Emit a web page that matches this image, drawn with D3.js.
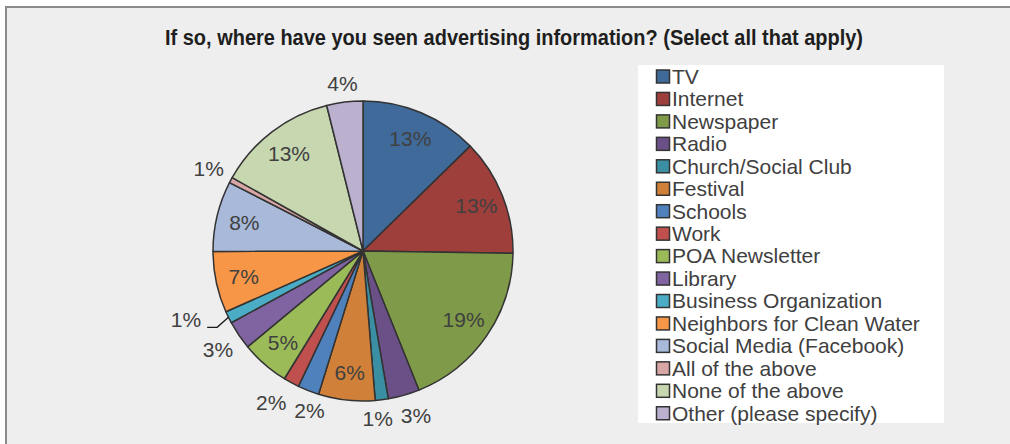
<!DOCTYPE html>
<html>
<head>
<meta charset="utf-8">
<script src="https://cdn.jsdelivr.net/npm/d3@7"></script>
<style>
  html, body { margin: 0; padding: 0; background: #ffffff; }
  svg text { font-family: "Liberation Sans", Arial, sans-serif; }
</style>
</head>
<body>
<svg id="chart" width="1010" height="444"></svg>
<script>
// Survey responses: share of answers (percent) per source
const categories = [
  "TV", "Internet", "Newspaper", "Radio", "Church/Social Club", "Festival",
  "Schools", "Work", "POA Newsletter", "Library", "Business Organization",
  "Neighbors for Clean Water", "Social Media (Facebook)", "All of the above",
  "None of the above", "Other (please specify)"
];
const shares = [12.7, 12.6, 18.7, 3.4, 1.4, 6.1, 2.3, 1.7, 5.2, 3.1, 1.3, 6.6, 7.6, 0.6, 13.0, 3.9];
const palette = [
  "#3f6a9a", "#9e3f3c", "#7f9a48", "#6b5087", "#3a8fa3", "#d1803a",
  "#4f81bd", "#c0504d", "#9bbb59", "#8064a2", "#4bacc6", "#f79646",
  "#a8b9d9", "#d7a6a5", "#c7d7b0", "#bbb0ce"
];
const title = "If so, where have you seen advertising information? (Select all that apply)";

const rows = categories.map((c, i) => ({ name: c, value: shares[i], color: palette[i] }));

const svg = d3.select("#chart");

// chart area frame
svg.append("rect")
  .attr("x", 6).attr("y", 7).attr("width", 1100).attr("height", 500)
  .attr("fill", "#eeeeee").attr("stroke", "#8a8a8a").attr("stroke-width", 2);

svg.append("text")
  .attr("x", 514).attr("y", 45)
  .attr("text-anchor", "middle")
  .attr("font-size", 22).attr("font-weight", "bold")
  .attr("fill", "#1e1e1e")
  .attr("textLength", 698).attr("lengthAdjust", "spacingAndGlyphs")
  .text(title);

// pie
const cx = 363, cy = 251, R = 150;
const pie = d3.pie().value(d => d.value).sort(null);
const arcs = pie(rows);
const arc = d3.arc().innerRadius(0).outerRadius(R);

const g = svg.append("g").attr("transform", `translate(${cx},${cy})`);
g.selectAll("path.slice").data(arcs).join("path")
  .attr("class", "slice")
  .attr("d", arc)
  .attr("fill", d => d.data.color)
  .attr("stroke", "#333333")
  .attr("stroke-width", 1.5)
  .attr("stroke-linejoin", "round");

// data labels: large slices inside, small slices just outside the rim
const fontSize = 21;
const labelColor = "#404040";
const fmt = v => Math.round(v) + "%";
const insideR = 122;
const gap = 7;
const halfH = 10;
const boxHalfH = 12;

const labels = arcs.map(d => {
  const mid = (d.startAngle + d.endAngle) / 2;
  const s = Math.sin(mid), c = -Math.cos(mid);
  const txt = fmt(d.data.value);
  const halfW = ((txt.length - 1) * 0.556 + 0.889) * fontSize / 2;
  if (d.data.value >= 4.5) {
    return { txt, x: s * insideR, y: c * insideR, inside: true };
  }
  const rr = R + gap + halfW * Math.abs(s) + halfH * Math.abs(c);
  return { txt, s, c, halfW, x: s * rr, y: c * rr, inside: false, leader: false };
});

// resolve overlaps between neighbouring outside labels
let prev = null;
labels.forEach(l => {
  if (l.inside) return;
  if (prev) {
    const need = l.halfW + prev.halfW + 8;
    const dx = Math.abs(l.x - prev.x), dy = Math.abs(l.y - prev.y);
    if (dx < need && dy < 2 * boxHalfH) {
      if (Math.abs(l.c) > Math.abs(l.s)) {
        // top / bottom of the pie: spread the pair sideways
        const shift = (need - dx) / 2;
        const dir = l.x < prev.x ? -1 : 1;
        l.x += dir * shift;
        prev.x -= dir * shift;
      } else {
        // sides of the pie: lift the label clear and attach a leader line
        const up = l.y < prev.y || l.x < 0 ? -1 : 1;
        l.y = prev.y + up * (2 * boxHalfH + 6);
        l.x += (l.x < 0 ? -1 : 1) * 20;
        l.leader = true;
      }
    }
  }
  prev = l;
});

labels.forEach(l => {
  g.append("text")
    .attr("x", l.x).attr("y", l.y)
    .attr("dy", "0.35em")
    .attr("text-anchor", "middle")
    .attr("font-size", fontSize).attr("fill", labelColor)
    .text(l.txt);
  if (l.leader) {
    const side = l.x < 0 ? 1 : -1;
    const edgeX = l.x + side * (l.halfW + 6);
    const pts = [
      [l.s * R, l.c * R],
      [edgeX + side * 10, l.y + 8],
      [edgeX, l.y + 8]
    ];
    g.append("path")
      .attr("d", d3.line()(pts))
      .attr("fill", "none")
      .attr("stroke", "#1a1a1a")
      .attr("stroke-width", 1.3);
  }
});

// legend
const legX = 638, legY = 65, legW = 306, legH = 358;
svg.append("rect")
  .attr("x", legX).attr("y", legY).attr("width", legW).attr("height", legH)
  .attr("fill", "#ffffff");

const rowStep = 22.45;
const firstRow = 76.5;
const leg = svg.append("g");
const item = leg.selectAll("g.item").data(rows).join("g")
  .attr("class", "item")
  .attr("transform", (d, i) => `translate(0,${firstRow + i * rowStep})`);
item.append("rect")
  .attr("x", 656.5).attr("y", -6.5).attr("width", 13).attr("height", 13)
  .attr("fill", d => d.color)
  .attr("stroke", "#333333").attr("stroke-width", 1.5);
item.append("text")
  .attr("x", 672).attr("y", 0).attr("dy", "0.35em")
  .attr("font-size", 21).attr("fill", labelColor)
  .text(d => d.name);
</script>
</body>
</html>
